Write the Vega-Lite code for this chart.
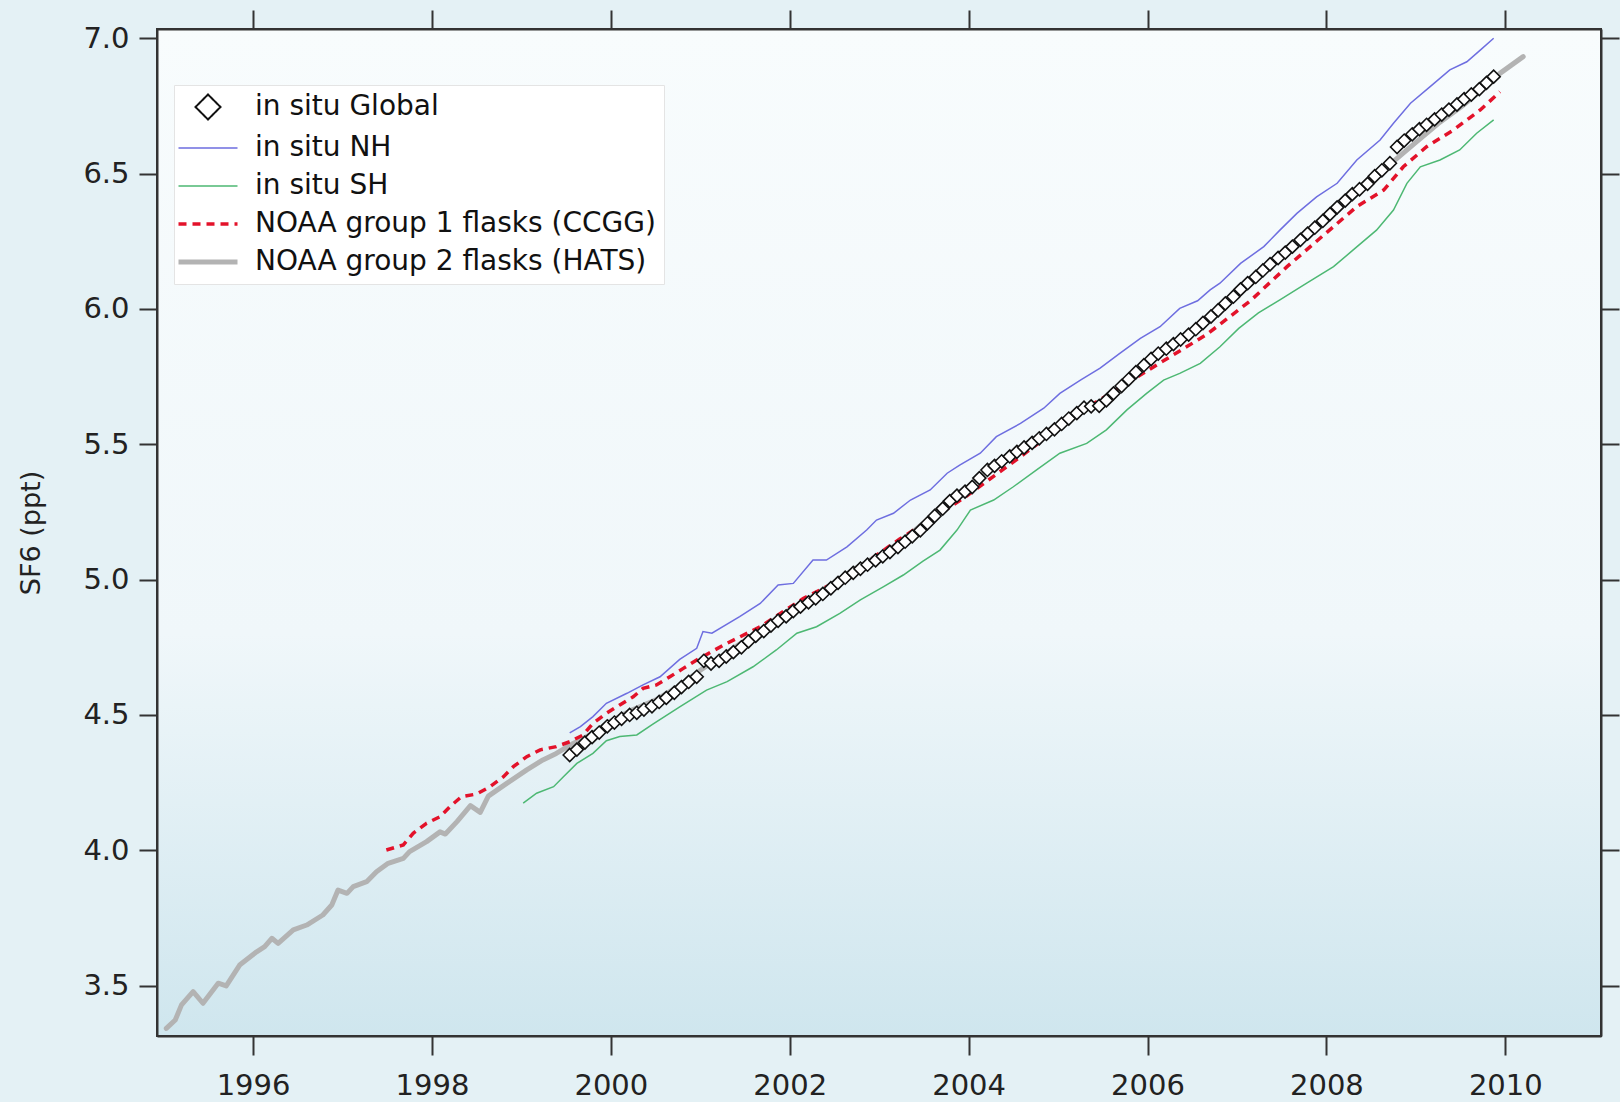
{
"$schema": "https://vega.github.io/schema/vega-lite/v6.json",
"width": 1444, "height": 1007,
"autosize": "none",
"padding": {"left": 157, "top": 29, "right": 19, "bottom": 66},
"background": "#e4f1f5",
"config": {
  "view": {"fill": {"gradient": "linear", "x1": 0, "y1": 0, "x2": 0, "y2": 1, "stops": [{"offset": 0, "color": "#f8fcfd"}, {"offset": 0.6, "color": "#f0f7fa"}, {"offset": 1, "color": "#cfe6ee"}]}, "stroke": "#333333", "strokeWidth": 2},
  "font": "DejaVu Sans",
  "axis": {"grid": false, "domainColor": "#333333", "domainWidth": 2, "tickColor": "#333333", "tickWidth": 2, "labelFont": "DejaVu Sans", "labelFontSize": 29, "labelColor": "#222222", "titleFont": "DejaVu Sans", "titleFontSize": 27, "titleFontWeight": "normal", "titleColor": "#222222", "labelOverlap": false, "labelBound": false, "labelFlush": false},
  "legend": {"orient": "none", "legendX": 17, "legendY": 56, "fillColor": "#ffffff", "strokeColor": "#e4e4e4", "padding": 8, "labelFont": "DejaVu Sans", "labelFontSize": 28, "labelColor": "#111111", "rowPadding": 10, "symbolOffset": 12, "labelOffset": 33, "symbolSize": 625, "labelLimit": 600}
},
"datasets": {
  "hats": [
    {"year":1995.03,"sf6":3.342},{"year":1995.13,"sf6":3.373},{"year":1995.20,"sf6":3.429},{"year":1995.33,"sf6":3.478},{"year":1995.44,"sf6":3.435},{"year":1995.61,"sf6":3.509},{"year":1995.70,"sf6":3.499},{"year":1995.85,"sf6":3.576},{"year":1996.04,"sf6":3.625},{"year":1996.13,"sf6":3.644},{"year":1996.21,"sf6":3.675},{"year":1996.28,"sf6":3.656},{"year":1996.45,"sf6":3.706},{"year":1996.60,"sf6":3.724},{"year":1996.78,"sf6":3.761},{"year":1996.88,"sf6":3.798},{"year":1996.95,"sf6":3.853},{"year":1997.05,"sf6":3.841},{"year":1997.12,"sf6":3.866},{"year":1997.27,"sf6":3.884},{"year":1997.38,"sf6":3.921},{"year":1997.51,"sf6":3.952},{"year":1997.68,"sf6":3.970},{"year":1997.75,"sf6":3.995},{"year":1997.94,"sf6":4.032},{"year":1998.09,"sf6":4.068},{"year":1998.15,"sf6":4.060},{"year":1998.28,"sf6":4.106},{"year":1998.43,"sf6":4.165},{"year":1998.54,"sf6":4.140},{"year":1998.63,"sf6":4.200},{"year":1998.84,"sf6":4.248},{"year":1999.06,"sf6":4.297},{"year":1999.24,"sf6":4.334},{"year":1999.39,"sf6":4.358},{"year":1999.58,"sf6":4.395},{"year":1999.80,"sf6":4.432},{"year":2000.00,"sf6":4.478},{"year":2000.25,"sf6":4.520},{"year":2000.50,"sf6":4.555},{"year":2000.75,"sf6":4.605},{"year":2001.00,"sf6":4.665},{"year":2001.25,"sf6":4.720},{"year":2001.50,"sf6":4.775},{"year":2001.75,"sf6":4.832},{"year":2002.00,"sf6":4.888},{"year":2002.25,"sf6":4.937},{"year":2002.50,"sf6":4.990},{"year":2002.75,"sf6":5.045},{"year":2003.00,"sf6":5.090},{"year":2003.25,"sf6":5.140},{"year":2003.50,"sf6":5.210},{"year":2003.75,"sf6":5.290},{"year":2004.00,"sf6":5.345},{"year":2004.25,"sf6":5.415},{"year":2004.50,"sf6":5.470},{"year":2004.75,"sf6":5.525},{"year":2005.00,"sf6":5.570},{"year":2005.25,"sf6":5.625},{"year":2005.50,"sf6":5.650},{"year":2005.75,"sf6":5.730},{"year":2006.00,"sf6":5.805},{"year":2006.25,"sf6":5.858},{"year":2006.50,"sf6":5.912},{"year":2006.75,"sf6":5.975},{"year":2007.00,"sf6":6.050},{"year":2007.25,"sf6":6.130},{"year":2007.50,"sf6":6.195},{"year":2007.75,"sf6":6.262},{"year":2008.00,"sf6":6.330},{"year":2008.25,"sf6":6.405},{"year":2008.50,"sf6":6.470},{"year":2008.75,"sf6":6.545},{"year":2009.00,"sf6":6.615},{"year":2009.25,"sf6":6.685},{"year":2009.50,"sf6":6.745},{"year":2009.75,"sf6":6.812},{"year":2009.94,"sf6":6.870},{"year":2010.20,"sf6":6.932}
  ],
  "nh": [
    {"year":1999.54,"sf6":4.434},{"year":1999.66,"sf6":4.457},{"year":1999.80,"sf6":4.494},{"year":1999.95,"sf6":4.543},{"year":2000.18,"sf6":4.580},{"year":2000.36,"sf6":4.611},{"year":2000.55,"sf6":4.641},{"year":2000.77,"sf6":4.705},{"year":2000.96,"sf6":4.746},{"year":2001.03,"sf6":4.808},{"year":2001.13,"sf6":4.802},{"year":2001.44,"sf6":4.863},{"year":2001.67,"sf6":4.912},{"year":2001.87,"sf6":4.980},{"year":2002.04,"sf6":4.986},{"year":2002.26,"sf6":5.072},{"year":2002.41,"sf6":5.072},{"year":2002.64,"sf6":5.121},{"year":2002.86,"sf6":5.183},{"year":2002.97,"sf6":5.220},{"year":2003.16,"sf6":5.245},{"year":2003.35,"sf6":5.294},{"year":2003.57,"sf6":5.331},{"year":2003.76,"sf6":5.393},{"year":2003.90,"sf6":5.423},{"year":2004.13,"sf6":5.467},{"year":2004.31,"sf6":5.528},{"year":2004.58,"sf6":5.577},{"year":2004.84,"sf6":5.633},{"year":2005.02,"sf6":5.688},{"year":2005.25,"sf6":5.737},{"year":2005.47,"sf6":5.781},{"year":2005.69,"sf6":5.836},{"year":2005.92,"sf6":5.891},{"year":2006.14,"sf6":5.934},{"year":2006.36,"sf6":6.002},{"year":2006.56,"sf6":6.030},{"year":2006.70,"sf6":6.070},{"year":2006.81,"sf6":6.095},{"year":2007.04,"sf6":6.168},{"year":2007.30,"sf6":6.230},{"year":2007.48,"sf6":6.291},{"year":2007.67,"sf6":6.353},{"year":2007.89,"sf6":6.414},{"year":2008.12,"sf6":6.464},{"year":2008.34,"sf6":6.550},{"year":2008.60,"sf6":6.624},{"year":2008.75,"sf6":6.686},{"year":2008.94,"sf6":6.760},{"year":2009.16,"sf6":6.821},{"year":2009.38,"sf6":6.883},{"year":2009.57,"sf6":6.913},{"year":2009.72,"sf6":6.956},{"year":2009.87,"sf6":7.000}
  ],
  "sh": [
    {"year":1999.02,"sf6":4.174},{"year":1999.17,"sf6":4.211},{"year":1999.36,"sf6":4.235},{"year":1999.47,"sf6":4.272},{"year":1999.62,"sf6":4.321},{"year":1999.80,"sf6":4.358},{"year":1999.95,"sf6":4.405},{"year":2000.10,"sf6":4.420},{"year":2000.29,"sf6":4.426},{"year":2000.47,"sf6":4.466},{"year":2000.77,"sf6":4.530},{"year":2001.07,"sf6":4.592},{"year":2001.30,"sf6":4.623},{"year":2001.59,"sf6":4.678},{"year":2001.85,"sf6":4.740},{"year":2002.08,"sf6":4.802},{"year":2002.30,"sf6":4.826},{"year":2002.56,"sf6":4.875},{"year":2002.79,"sf6":4.925},{"year":2003.05,"sf6":4.974},{"year":2003.27,"sf6":5.017},{"year":2003.49,"sf6":5.068},{"year":2003.68,"sf6":5.109},{"year":2003.87,"sf6":5.183},{"year":2004.02,"sf6":5.257},{"year":2004.28,"sf6":5.294},{"year":2004.50,"sf6":5.343},{"year":2004.76,"sf6":5.405},{"year":2005.02,"sf6":5.467},{"year":2005.32,"sf6":5.503},{"year":2005.54,"sf6":5.553},{"year":2005.77,"sf6":5.627},{"year":2005.99,"sf6":5.688},{"year":2006.18,"sf6":5.737},{"year":2006.36,"sf6":5.762},{"year":2006.59,"sf6":5.799},{"year":2006.81,"sf6":5.860},{"year":2007.02,"sf6":5.928},{"year":2007.24,"sf6":5.985},{"year":2007.48,"sf6":6.033},{"year":2007.78,"sf6":6.095},{"year":2008.08,"sf6":6.156},{"year":2008.30,"sf6":6.218},{"year":2008.56,"sf6":6.291},{"year":2008.75,"sf6":6.365},{"year":2008.90,"sf6":6.464},{"year":2009.05,"sf6":6.525},{"year":2009.27,"sf6":6.550},{"year":2009.49,"sf6":6.587},{"year":2009.68,"sf6":6.649},{"year":2009.87,"sf6":6.698}
  ],
  "ccgg": [
    {"year":1997.49,"sf6":4.001},{"year":1997.68,"sf6":4.020},{"year":1997.79,"sf6":4.063},{"year":1997.94,"sf6":4.100},{"year":1998.09,"sf6":4.124},{"year":1998.20,"sf6":4.161},{"year":1998.33,"sf6":4.198},{"year":1998.50,"sf6":4.208},{"year":1998.65,"sf6":4.235},{"year":1998.80,"sf6":4.272},{"year":1998.91,"sf6":4.309},{"year":1999.06,"sf6":4.346},{"year":1999.21,"sf6":4.371},{"year":1999.39,"sf6":4.383},{"year":1999.54,"sf6":4.401},{"year":1999.69,"sf6":4.426},{"year":1999.80,"sf6":4.469},{"year":1999.95,"sf6":4.506},{"year":2000.10,"sf6":4.537},{"year":2000.25,"sf6":4.567},{"year":2000.36,"sf6":4.598},{"year":2000.51,"sf6":4.611},{"year":2000.66,"sf6":4.641},{"year":2000.81,"sf6":4.672},{"year":2000.96,"sf6":4.703},{"year":2001.26,"sf6":4.758},{"year":2001.67,"sf6":4.826},{"year":2002.15,"sf6":4.930},{"year":2002.45,"sf6":4.980},{"year":2002.71,"sf6":5.030},{"year":2003.23,"sf6":5.150},{"year":2003.94,"sf6":5.300},{"year":2004.58,"sf6":5.454},{"year":2005.25,"sf6":5.620},{"year":2005.84,"sf6":5.740},{"year":2006.66,"sf6":5.905},{"year":2007.15,"sf6":6.030},{"year":2007.56,"sf6":6.156},{"year":2007.82,"sf6":6.230},{"year":2008.08,"sf6":6.304},{"year":2008.34,"sf6":6.378},{"year":2008.64,"sf6":6.439},{"year":2008.86,"sf6":6.525},{"year":2009.12,"sf6":6.599},{"year":2009.42,"sf6":6.661},{"year":2009.72,"sf6":6.735},{"year":2009.94,"sf6":6.802}
  ],
  "global": [
    {"year":1999.54,"sf6":4.352},{"year":1999.62,"sf6":4.372},{"year":1999.71,"sf6":4.398},{"year":1999.79,"sf6":4.418},{"year":1999.87,"sf6":4.435},{"year":1999.96,"sf6":4.458},{"year":2000.04,"sf6":4.472},{"year":2000.12,"sf6":4.486},{"year":2000.21,"sf6":4.500},{"year":2000.29,"sf6":4.508},{"year":2000.37,"sf6":4.520},{"year":2000.46,"sf6":4.532},{"year":2000.54,"sf6":4.548},{"year":2000.62,"sf6":4.563},{"year":2000.71,"sf6":4.582},{"year":2000.79,"sf6":4.603},{"year":2000.87,"sf6":4.622},{"year":2000.96,"sf6":4.641},{"year":2001.04,"sf6":4.700},{"year":2001.12,"sf6":4.690},{"year":2001.21,"sf6":4.700},{"year":2001.29,"sf6":4.716},{"year":2001.37,"sf6":4.732},{"year":2001.46,"sf6":4.750},{"year":2001.54,"sf6":4.772},{"year":2001.62,"sf6":4.792},{"year":2001.71,"sf6":4.810},{"year":2001.79,"sf6":4.830},{"year":2001.87,"sf6":4.848},{"year":2001.96,"sf6":4.864},{"year":2002.04,"sf6":4.884},{"year":2002.12,"sf6":4.900},{"year":2002.21,"sf6":4.916},{"year":2002.29,"sf6":4.931},{"year":2002.37,"sf6":4.947},{"year":2002.46,"sf6":4.968},{"year":2002.54,"sf6":4.988},{"year":2002.62,"sf6":5.007},{"year":2002.71,"sf6":5.025},{"year":2002.79,"sf6":5.040},{"year":2002.87,"sf6":5.055},{"year":2002.96,"sf6":5.071},{"year":2003.04,"sf6":5.086},{"year":2003.12,"sf6":5.102},{"year":2003.21,"sf6":5.120},{"year":2003.29,"sf6":5.140},{"year":2003.37,"sf6":5.160},{"year":2003.46,"sf6":5.182},{"year":2003.54,"sf6":5.208},{"year":2003.62,"sf6":5.235},{"year":2003.71,"sf6":5.262},{"year":2003.79,"sf6":5.290},{"year":2003.87,"sf6":5.310},{"year":2003.96,"sf6":5.325},{"year":2004.04,"sf6":5.342},{"year":2004.12,"sf6":5.375},{"year":2004.21,"sf6":5.405},{"year":2004.29,"sf6":5.420},{"year":2004.37,"sf6":5.437},{"year":2004.46,"sf6":5.455},{"year":2004.54,"sf6":5.472},{"year":2004.62,"sf6":5.488},{"year":2004.71,"sf6":5.505},{"year":2004.79,"sf6":5.522},{"year":2004.87,"sf6":5.538},{"year":2004.96,"sf6":5.555},{"year":2005.04,"sf6":5.575},{"year":2005.12,"sf6":5.595},{"year":2005.21,"sf6":5.615},{"year":2005.29,"sf6":5.635},{"year":2005.37,"sf6":5.640},{"year":2005.46,"sf6":5.642},{"year":2005.54,"sf6":5.662},{"year":2005.62,"sf6":5.688},{"year":2005.71,"sf6":5.715},{"year":2005.79,"sf6":5.740},{"year":2005.87,"sf6":5.766},{"year":2005.96,"sf6":5.792},{"year":2006.04,"sf6":5.815},{"year":2006.12,"sf6":5.835},{"year":2006.21,"sf6":5.853},{"year":2006.29,"sf6":5.870},{"year":2006.37,"sf6":5.887},{"year":2006.46,"sf6":5.905},{"year":2006.54,"sf6":5.925},{"year":2006.62,"sf6":5.948},{"year":2006.71,"sf6":5.972},{"year":2006.79,"sf6":5.995},{"year":2006.87,"sf6":6.020},{"year":2006.96,"sf6":6.045},{"year":2007.04,"sf6":6.072},{"year":2007.12,"sf6":6.095},{"year":2007.21,"sf6":6.118},{"year":2007.29,"sf6":6.142},{"year":2007.37,"sf6":6.165},{"year":2007.46,"sf6":6.188},{"year":2007.54,"sf6":6.208},{"year":2007.62,"sf6":6.230},{"year":2007.71,"sf6":6.255},{"year":2007.79,"sf6":6.278},{"year":2007.87,"sf6":6.300},{"year":2007.96,"sf6":6.325},{"year":2008.04,"sf6":6.350},{"year":2008.12,"sf6":6.375},{"year":2008.21,"sf6":6.400},{"year":2008.29,"sf6":6.424},{"year":2008.37,"sf6":6.442},{"year":2008.46,"sf6":6.462},{"year":2008.54,"sf6":6.490},{"year":2008.62,"sf6":6.512},{"year":2008.71,"sf6":6.538},{"year":2008.79,"sf6":6.598},{"year":2008.87,"sf6":6.622},{"year":2008.96,"sf6":6.645},{"year":2009.04,"sf6":6.664},{"year":2009.12,"sf6":6.680},{"year":2009.21,"sf6":6.700},{"year":2009.29,"sf6":6.718},{"year":2009.37,"sf6":6.736},{"year":2009.46,"sf6":6.755},{"year":2009.54,"sf6":6.775},{"year":2009.62,"sf6":6.792},{"year":2009.71,"sf6":6.812},{"year":2009.79,"sf6":6.835},{"year":2009.87,"sf6":6.858}
  ]
},
"layer": [
  {
    "data": {"name": "hats"},
    "mark": {"type": "line", "strokeWidth": 5, "strokeCap": "round", "strokeJoin": "round"},
    "encoding": {
      "x": {"field": "year", "type": "quantitative", "scale": {"domain": [1994.926, 2011.07], "nice": false, "zero": false},
            "axis": {"orient": "bottom", "values": [1996, 1998, 2000, 2002, 2004, 2006, 2008, 2010], "format": "d", "tickSize": 19, "labelPadding": 16, "title": null}},
      "y": {"field": "sf6", "type": "quantitative", "scale": {"domain": [3.314, 7.034], "nice": false, "zero": false},
            "axis": {"orient": "left", "values": [3.5, 4.0, 4.5, 5.0, 5.5, 6.0, 6.5, 7.0], "format": ".1f", "tickSize": 18, "labelPadding": 10, "title": "SF6 (ppt)", "titlePadding": 37}},
      "color": {"datum": "NOAA group 2 flasks (HATS)", "type": "nominal",
        "scale": {"domain": ["in situ Global", "in situ NH", "in situ SH", "NOAA group 1 flasks (CCGG)", "NOAA group 2 flasks (HATS)"], "range": ["#111111", "#6e6ee0", "#4db873", "#e3122a", "#b3b3b3"]},
        "legend": {"title": null,
          "encode": {"symbols": {"update": {
            "shape": {"signal": "datum.value === 'in situ Global' ? 'diamond' : 'M-2.36,0H2.36'"},
            "size": {"value": 625},
            "fill": {"value": "transparent"},
            "stroke": {"scale": "color", "field": "value"},
            "opacity": {"value": 1},
            "strokeWidth": {"signal": "datum.value === 'NOAA group 2 flasks (HATS)' ? 5 : datum.value === 'NOAA group 1 flasks (CCGG)' ? 3.5 : datum.value === 'in situ Global' ? 2 : 1.5"},
            "strokeDash": {"signal": "datum.value === 'NOAA group 1 flasks (CCGG)' ? [8, 6] : [1, 0]"}
          }}}}}
    }
  },
  {
    "data": {"name": "nh"},
    "mark": {"type": "line", "strokeWidth": 1.5},
    "encoding": {
      "x": {"field": "year", "type": "quantitative", "scale": {"domain": [1994.926, 2011.07], "nice": false, "zero": false},
            "axis": {"orient": "top", "values": [1996, 1998, 2000, 2002, 2004, 2006, 2008, 2010], "labels": false, "tickSize": 19, "title": null}},
      "y": {"field": "sf6", "type": "quantitative", "scale": {"domain": [3.314, 7.034], "nice": false, "zero": false},
            "axis": {"orient": "right", "values": [3.5, 4.0, 4.5, 5.0, 5.5, 6.0, 6.5, 7.0], "labels": false, "tickSize": 18, "title": null}},
      "color": {"datum": "in situ NH", "type": "nominal"}
    }
  },
  {
    "data": {"name": "sh"},
    "mark": {"type": "line", "strokeWidth": 1.5},
    "encoding": {
      "x": {"field": "year", "type": "quantitative", "axis": null},
      "y": {"field": "sf6", "type": "quantitative", "axis": null},
      "color": {"datum": "in situ SH", "type": "nominal"}
    }
  },
  {
    "data": {"name": "ccgg"},
    "mark": {"type": "line", "strokeWidth": 3.5, "strokeDash": [8, 6]},
    "encoding": {
      "x": {"field": "year", "type": "quantitative", "axis": null},
      "y": {"field": "sf6", "type": "quantitative", "axis": null},
      "color": {"datum": "NOAA group 1 flasks (CCGG)", "type": "nominal"}
    }
  },
  {
    "data": {"name": "global"},
    "mark": {"type": "point", "shape": "diamond", "filled": false, "fill": "#ffffff", "size": 170, "strokeWidth": 1.6, "opacity": 1},
    "encoding": {
      "x": {"field": "year", "type": "quantitative", "axis": null},
      "y": {"field": "sf6", "type": "quantitative", "axis": null},
      "color": {"datum": "in situ Global", "type": "nominal"}
    }
  }
],
"resolve": {"axis": {"x": "independent", "y": "independent"}}
}
